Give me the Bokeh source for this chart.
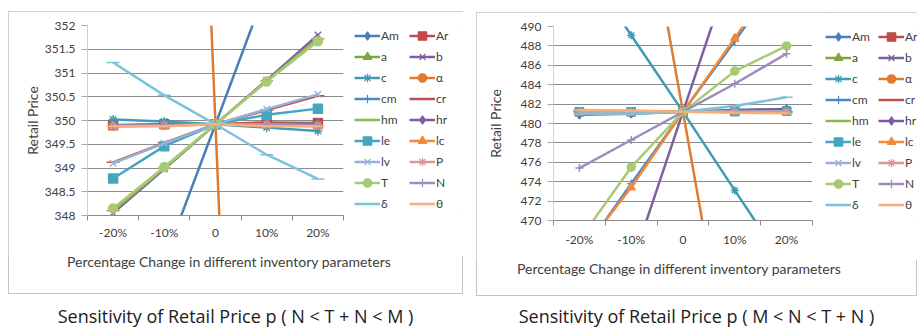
from bokeh.plotting import figure
from bokeh.models import (Range1d, FixedTicker, NumeralTickFormatter, Legend, LegendItem,
                          SingleIntervalTicker, Div, Row, Column)
from bokeh.embed import file_html
from bokeh.resources import INLINE

# ---------------- data ----------------
categories = ["-20%", "-10%", "0", "10%", "20%"]

series_names = ["Am", "Ar", "a", "b", "c", "α", "cm", "cr", "hm",
                "hr", "le", "lc", "lv", "P", "T", "N", "δ", "θ"]
series_colors = ["#4A7EBB", "#BE4B48", "#7FA443", "#7D60A0", "#3E9BB5", "#E07A2E",
                 "#4F86C6", "#C0504D", "#8DB852", "#7A5CA0", "#45A6C0", "#F28A3A",
                 "#95B3D7", "#D99694", "#A9C973", "#A08CC0", "#7CC3DA", "#F9AE78"]
series_markers = ["diamond", "square", "triangle", "x", "asterisk", "circle",
                  "cross", "dash", "dash", "diamond", "square", "triangle",
                  "x", "asterisk", "circle", "cross", "dash", "dash"]

# Left chart: N < T + N < M
left_Am = [344.2, 347.05, 349.92, 352.8, 355.7]
left_Ar = [349.90, 349.92, 349.92, 349.96, 349.95]
left_a = [349.88, 349.90, 349.92, 349.92, 349.93]
left_b = [348.05, 348.98, 349.92, 350.85, 351.80]
left_c = [350.02, 349.98, 349.92, 349.85, 349.78]
left_alpha = [401.0, 375.5, 349.92, 324.3, 298.7]
left_cm = [349.90, 349.91, 349.92, 349.92, 349.92]
left_cr = [349.12, 349.53, 349.92, 350.22, 350.52]
left_hm = [348.10, 349.00, 349.92, 350.83, 351.72]
left_hr = [349.90, 349.91, 349.92, 349.92, 349.93]
left_le = [348.78, 349.46, 349.92, 350.12, 350.25]
left_lc = [349.88, 349.89, 349.92, 349.90, 349.88]
left_lv = [349.10, 349.52, 349.92, 350.24, 350.55]
left_P = [349.88, 349.90, 349.92, 349.92, 349.90]
left_T = [348.15, 349.02, 349.92, 350.82, 351.67]
left_N = [349.89, 349.90, 349.92, 349.91, 349.90]
left_delta = [351.22, 350.53, 349.92, 349.28, 348.77]
left_theta = [349.88, 349.88, 349.92, 349.88, 349.88]

# Right chart: M < N < T + N
right_Am = [481.0, 481.1, 481.2, 481.3, 481.4]
right_Ar = [481.2, 481.2, 481.2, 481.3, 481.3]
right_a = [481.1, 481.15, 481.2, 481.25, 481.3]
right_b = [449.3, 465.3, 481.2, 497.1, 513.0]
right_c = [497.1, 489.1, 481.2, 473.1, 465.1]
right_alpha = [541.0, 511.0, 481.2, 451.0, 421.0]
right_cm = [466.2, 473.8, 481.2, 488.5, 496.0]
right_cr = [481.3, 481.3, 481.2, 481.2, 481.2]
right_hm = [481.2, 481.2, 481.2, 481.2, 481.2]
right_hr = [480.9, 481.0, 481.2, 481.4, 481.5]
right_le = [481.2, 481.2, 481.2, 481.2, 481.3]
right_lc = [466.5, 473.4, 481.2, 488.8, 496.5]
right_lv = [481.1, 481.1, 481.2, 481.2, 481.2]
right_P = [481.2, 481.2, 481.2, 481.2, 481.2]
right_T = [468.0, 475.5, 481.2, 485.4, 488.0]
right_N = [475.4, 478.3, 481.2, 484.1, 487.2]
right_delta = [481.0, 481.0, 481.2, 481.8, 482.7]
right_theta = [481.4, 481.35, 481.2, 481.1, 481.05]

left_values = [left_Am, left_Ar, left_a, left_b, left_c, left_alpha, left_cm, left_cr, left_hm,
               left_hr, left_le, left_lc, left_lv, left_P, left_T, left_N, left_delta, left_theta]
right_values = [right_Am, right_Ar, right_a, right_b, right_c, right_alpha, right_cm, right_cr, right_hm,
                right_hr, right_le, right_lc, right_lv, right_P, right_T, right_N, right_delta, right_theta]

left_y = (348, 352, 0.5)
right_y = (470, 490, 2)
x_title = "Percentage Change in different inventory parameters"
y_title = "Retail Price"
left_caption = "Sensitivity of Retail Price p ( N < T + N < M )"
right_caption = "Sensitivity of Retail Price p ( M < N < T + N )"

FONT = "Lato"
TXT = "#404040"
BOX = {"outline": "1.5px solid #C4C4C4", "outline-offset": "-1.5px"}
XS = list(range(1, len(categories) + 1))


def make_plot(values, yspec, width, height, frame_left, frame_right, frame_top,
              frame_bottom, marker_size, ylabel_standoff, xlabel_standoff):
    p = figure(width=width, height=height, output_backend="svg", toolbar_location=None,
               x_range=Range1d(0.5, len(categories) + 0.5),
               y_range=Range1d(yspec[0], yspec[1]),
               min_border_left=frame_left, min_border_right=width - frame_right,
               min_border_top=frame_top, min_border_bottom=height - frame_bottom)
    p.outline_line_color = None
    p.background_fill_color = "white"
    p.border_fill_color = "white"

    xax = p.xaxis[0]
    xax.ticker = FixedTicker(ticks=XS, minor_ticks=[i + 0.5 for i in range(len(categories) + 1)])
    xax.major_label_overrides = {x: c for x, c in zip(XS, categories)}
    xax.major_tick_out = 0
    xax.major_tick_in = 0
    xax.minor_tick_out = 5
    xax.minor_tick_in = 0
    xax.minor_tick_line_color = "#8C8C8C"
    xax.axis_line_color = "#8C8C8C"
    xax.major_label_standoff = xlabel_standoff

    yax = p.yaxis[0]
    yax.ticker = SingleIntervalTicker(interval=yspec[2], num_minor_ticks=0)
    yax.formatter = NumeralTickFormatter(format="0.[0]")
    yax.major_tick_out = 6
    yax.major_tick_in = 0
    yax.minor_tick_line_color = None
    yax.major_tick_line_color = "#A6A6A6"
    yax.axis_line_color = "#D0D0D0"
    yax.major_label_standoff = 6
    yax.axis_label = y_title
    yax.axis_label_standoff = ylabel_standoff
    yax.axis_label_text_font_style = "normal"
    yax.axis_label_text_font = FONT
    yax.axis_label_text_font_size = "14px"
    yax.axis_label_text_color = TXT

    for ax in (xax, yax):
        ax.major_label_text_font = FONT
        ax.major_label_text_font_size = "12px"
        ax.major_label_text_color = TXT

    p.xgrid.grid_line_color = None
    p.ygrid.ticker = SingleIntervalTicker(interval=yspec[2], num_minor_ticks=0)
    p.ygrid.grid_line_color = "#8C8C8C"
    p.ygrid.grid_line_width = 1

    for color, marker, ys in zip(series_colors, series_markers, values):
        p.line(XS, ys, line_color=color, line_width=2.5)
        msize = marker_size + (4 if marker == "dash" else 0)
        p.scatter(XS, ys, marker=marker, size=msize, fill_color=color,
                  line_color=color, line_width=1.5)
    return p


def make_legend(values, width, height, row_h, label_w):
    # a small figure beside the plot, holding only the legend
    lp = figure(width=width, height=height, output_backend="svg",
                toolbar_location=None, title_location=None,
                x_axis_type=None, y_axis_type=None, min_border=0,
                x_range=Range1d(-2, -1), y_range=Range1d(-2, -1))
    lp.outline_line_color = None
    lp.grid.grid_line_color = None
    lp.background_fill_color = "white"
    lp.border_fill_color = "white"
    items = []
    for name, color, marker, ys in zip(series_names, series_colors, series_markers, values):
        rl = lp.line(XS, ys, line_color=color, line_width=2.5)
        rm = lp.scatter(XS, ys, marker=marker, size=8, fill_color=color,
                        line_color=color, line_width=1.2)
        items.append(LegendItem(label=name, renderers=[rl, rm]))
    # legend fills column by column: reorder so that it reads row by row
    items = items[0::2] + items[1::2]
    legend = Legend(items=items, ncols=2, location="top_left", margin=0, padding=0,
                    spacing=0, glyph_width=26, glyph_height=row_h, label_height=row_h,
                    label_width=label_w, label_standoff=1,
                    label_text_font=FONT, label_text_font_size="12px", label_text_color=TXT,
                    border_line_color=None, background_fill_alpha=0)
    lp.add_layout(legend, "center")
    return lp


def make_xtitle(width, height, pad_left, line_h):
    return Div(text=x_title, width=width, height=height, margin=0,
               styles={"font-family": FONT, "font-size": "14px", "color": TXT,
                       "line-height": f"{line_h}px", "padding-left": f"{pad_left}px",
                       "white-space": "nowrap", "box-sizing": "border-box"})


def make_caption(text, width, margin):
    return Div(text=text, width=width, height=30, margin=margin,
               styles={"text-align": "center", "font-family": "Open Sans", "font-size": "18px",
                       "line-height": "22px", "color": "#202020", "white-space": "nowrap"})


left_plot = make_plot(left_values, left_y, width=346, height=245,
                      frame_left=79, frame_right=335, frame_top=14, frame_bottom=204,
                      marker_size=9, ylabel_standoff=1, xlabel_standoff=4)
left_leg = make_legend(left_values, 109, 245, row_h=21, label_w=28)
right_plot = make_plot(right_values, right_y, width=349, height=248,
                       frame_left=77, frame_right=336, frame_top=14, frame_bottom=208,
                       marker_size=8, ylabel_standoff=14, xlabel_standoff=6)
right_leg = make_legend(right_values, 92, 248, row_h=21, label_w=26)

left_box = Column(children=[Row(children=[left_plot, left_leg]),
                            make_xtitle(455, 38, 59, 12)],
                  margin=(11, 0, 0, 8), styles=BOX)
right_box = Column(children=[Row(children=[right_plot, right_leg]),
                             make_xtitle(441, 36, 41, 18)],
                   margin=(12, 0, 0, 13), styles=BOX)

left_cap = make_caption(left_caption, 455, (11, 0, 0, 8))
right_cap = make_caption(right_caption, 441, (9, 0, 0, 13))

layout = Row(children=[Column(children=[left_box, left_cap]),
                       Column(children=[right_box, right_cap])])
open("out.html", "w").write(file_html(layout, INLINE))
